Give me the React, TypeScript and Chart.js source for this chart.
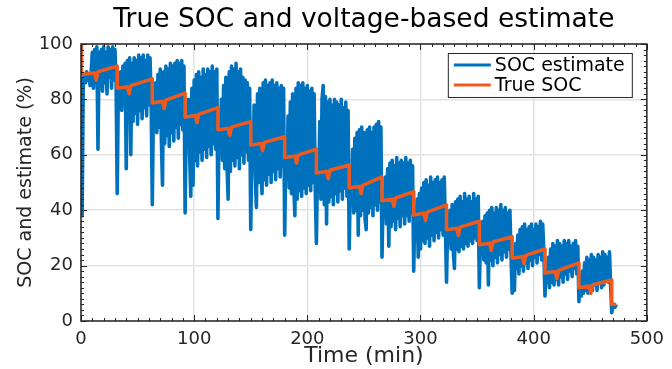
import React, { useEffect, useRef } from "react";
import { Chart, registerables } from "chart.js";

Chart.register(...registerables);

const TITLE = "True SOC and voltage-based estimate";
const X_LABEL = "Time (min)";
const Y_LABEL = "SOC and estimate (%)";
const SERIES_LABELS = ["SOC estimate", "True SOC"];
const X_RANGE = [0, 500];
const Y_RANGE = [0, 100];
const X_MAJOR = 100;
const Y_MAJOR = 20;
const X_MINOR = 10;
const Y_MINOR = 2;

// Voltage-based SOC estimate, one sample per minute (t = 0, 1, 2, ... min)
const socEstimate = [
  88, 38, 87, 89, 86, 90, 87, 89, 85, 90,
  97, 84, 98, 86, 99, 62, 97, 85, 98, 83,
  99, 86, 97, 82, 99, 88, 98, 84, 99, 87,
  98, 86, 46, 84, 80, 90, 76, 92, 78, 93,
  55, 94, 74, 95, 60, 93, 72, 95, 75, 94,
  71, 96, 76, 95, 73, 96, 77, 94, 74, 96,
  78, 95, 80, 42, 78, 72, 86, 68, 89, 70,
  91, 66, 49, 90, 64, 92, 67, 91, 63, 93,
  68, 92, 65, 93, 70, 94, 66, 93, 71, 94,
  69, 92, 39, 74, 66, 80, 60, 45, 84, 49,
  87, 58, 89, 56, 90, 61, 88, 58, 91, 62,
  89, 59, 91, 63, 90, 60, 92, 64, 90, 62,
  91, 37, 70, 62, 80, 58, 85, 55, 88, 57,
  44, 90, 54, 92, 58, 91, 56, 93, 59, 90,
  55, 91, 60, 88, 57, 87, 61, 86, 58, 84,
  33, 64, 56, 78, 52, 41, 82, 50, 84, 53,
  46, 86, 51, 87, 49, 85, 53, 86, 50, 87,
  54, 85, 51, 86, 55, 84, 52, 85, 56, 84,
  31, 60, 52, 74, 48, 79, 46, 82, 49, 38,
  84, 44, 86, 47, 85, 45, 86, 48, 84, 46,
  85, 49, 83, 47, 84, 50, 82, 48, 28, 55,
  47, 72, 44, 80, 85, 42, 81, 35, 79, 43,
  80, 45, 78, 42, 80, 46, 79, 43, 78, 47,
  80, 44, 77, 48, 79, 45, 76, 26, 50, 42,
  62, 39, 66, 40, 68, 31, 69, 38, 70, 40,
  68, 37, 33, 69, 39, 70, 41, 68, 38, 70,
  42, 71, 40, 72, 43, 70, 23, 45, 38, 52,
  35, 55, 27, 57, 34, 58, 36, 56, 33, 59,
  37, 57, 34, 58, 38, 57, 35, 59, 38, 57,
  36, 58, 39, 56, 18, 40, 33, 44, 23, 46,
  26, 48, 29, 50, 28, 51, 30, 49, 27, 52,
  31, 50, 29, 51, 32, 52, 30, 50, 33, 51,
  31, 52, 34, 14, 35, 29, 40, 26, 42, 25,
  19, 43, 26, 44, 25, 45, 27, 43, 26, 46,
  28, 44, 27, 45, 29, 43, 28, 46, 30, 44,
  29, 45, 12, 30, 24, 36, 22, 38, 21, 39,
  13, 40, 22, 41, 20, 39, 23, 41, 21, 40,
  24, 42, 22, 40, 25, 41, 23, 39, 26, 40,
  24, 10, 24, 11, 28, 19, 31, 17, 33, 20,
  34, 18, 35, 21, 33, 19, 34, 22, 35, 20,
  33, 23, 35, 21, 34, 24, 36, 22, 35, 25,
  9, 19, 14, 23, 12, 26, 14, 28, 13, 27,
  15, 29, 13, 28, 16, 27, 14, 29, 17, 28,
  15, 29, 18, 27, 16, 28, 19, 29, 17, 27,
  7, 13, 9, 18, 10, 21, 11, 23, 10, 22,
  12, 24, 11, 23, 13, 22, 11, 24, 14, 23,
  12, 25, 13, 24, 15, 23, 14, 25, 13, 3,
  5, 6, 5, 6,
];

// True SOC staircase (time in min, SOC in %)
const trueTime = [
  0, 0.5, 12, 13.5, 15, 32,
  32, 41, 42.5, 44, 63,
  63, 72, 73.5, 75, 92,
  92, 101, 102.5, 104, 121,
  121, 130, 131.5, 133, 150,
  150, 159, 160.5, 162, 180,
  180, 189, 190.5, 192, 208,
  208, 217, 218.5, 220, 237,
  237, 246, 247.5, 249, 266,
  266, 275, 276.5, 278, 294,
  294, 303, 304.5, 306, 323,
  323, 332, 333.5, 335, 352,
  352, 361, 362.5, 364, 381,
  381, 390, 391.5, 393, 410,
  410, 419, 420.5, 422, 440,
  440, 449, 450.5, 452, 469,
  469, 473,
];
const trueSOC = [
  100, 89, 89.5, 87, 90, 92,
  84, 84.6, 82, 85, 87.4,
  78.7, 79.3, 76.7, 79.7, 82.3,
  73.6, 74.2, 71.6, 74.6, 77,
  69, 69.6, 67, 70, 72,
  63.5, 64.1, 61.5, 64.5, 66.5,
  59, 59.6, 57, 60, 62,
  53.4, 54, 51.4, 54.4, 56.3,
  48, 48.6, 46, 49, 52,
  43.4, 44, 41.4, 44.4, 46.7,
  38.3, 38.9, 36.3, 39.3, 41.9,
  32.9, 33.5, 30.9, 33.9, 36,
  27.5, 28.1, 25.5, 28.5, 30.4,
  22.7, 23.3, 20.7, 23.7, 26,
  17.3, 17.9, 15.3, 18.3, 21,
  12, 12.6, 10, 13, 14.8,
  6, 6,
];

const BLUE = "#0072BD";
const ORANGE = "#EE5A1E";
const AXIS = "#262626";
const GRID = "#e2e2e2";
const FONT = "'DejaVu Sans', 'Liberation Sans', sans-serif";

const framePlugin = {
  id: "matlabFrame",
  afterDatasetsDraw(chart: any) {
    const { ctx, chartArea: a, scales } = chart;
    const x = scales.x;
    const y = scales.y;
    ctx.save();
    ctx.strokeStyle = AXIS;
    ctx.lineWidth = 1;
    ctx.beginPath();
    for (let v = X_RANGE[0]; v <= X_RANGE[1]; v += X_MINOR) {
      const px = Math.round(x.getPixelForValue(v)) + 0.5;
      const len = v % X_MAJOR === 0 ? 6 : 3;
      ctx.moveTo(px, a.bottom);
      ctx.lineTo(px, a.bottom - len);
      ctx.moveTo(px, a.top);
      ctx.lineTo(px, a.top + len);
    }
    for (let v = Y_RANGE[0]; v <= Y_RANGE[1]; v += Y_MINOR) {
      const py = Math.round(y.getPixelForValue(v)) + 0.5;
      const len = v % Y_MAJOR === 0 ? 6 : 3;
      ctx.moveTo(a.left, py);
      ctx.lineTo(a.left + len, py);
      ctx.moveTo(a.right, py);
      ctx.lineTo(a.right - len, py);
    }
    ctx.stroke();
    ctx.lineWidth = 1.5;
    ctx.strokeRect(a.left, a.top, a.right - a.left, a.bottom - a.top);
    ctx.restore();
  },
};

const legendPlugin = {
  id: "boxLegend",
  afterDraw(chart: any) {
    const { ctx, chartArea: a } = chart;
    const right = a.right - 15;
    const top = a.top + 9;
    const w = 184;
    const h = 44;
    const left = right - w;
    ctx.save();
    ctx.fillStyle = "#ffffff";
    ctx.fillRect(left, top, w, h);
    ctx.strokeStyle = AXIS;
    ctx.lineWidth = 1;
    ctx.strokeRect(left + 0.5, top + 0.5, w, h);
    const items = [
      { label: SERIES_LABELS[0], color: BLUE },
      { label: SERIES_LABELS[1], color: ORANGE },
    ];
    ctx.font = `19px ${FONT}`;
    ctx.textBaseline = "middle";
    ctx.textAlign = "left";
    items.forEach((it, i) => {
      const cy = top + 12 + i * 20;
      ctx.strokeStyle = it.color;
      ctx.lineWidth = 3;
      ctx.beginPath();
      ctx.moveTo(left + 6, cy);
      ctx.lineTo(left + 43, cy);
      ctx.stroke();
      ctx.fillStyle = "#000000";
      ctx.fillText(it.label, left + 47, cy + 1);
    });
    ctx.restore();
  },
};

export default function App() {
  const ref = useRef<HTMLCanvasElement | null>(null);

  useEffect(() => {
    if (!ref.current) return;
    const chart = new Chart(ref.current, {
      type: "scatter",
      data: {
        datasets: [
          {
            label: SERIES_LABELS[0],
            data: socEstimate.map((v, i) => ({ x: i, y: v })),
            showLine: true,
            borderColor: BLUE,
            backgroundColor: BLUE,
            borderWidth: 3.6,
            borderJoinStyle: "round",
            pointRadius: 0,
            order: 2,
          },
          {
            label: SERIES_LABELS[1],
            data: trueTime.map((t, i) => ({ x: t, y: trueSOC[i] })),
            showLine: true,
            borderColor: ORANGE,
            backgroundColor: ORANGE,
            borderWidth: 3.5,
            borderJoinStyle: "round",
            pointRadius: 0,
            order: 1,
          },
        ],
      },
      options: {
        responsive: false,
        animation: false,
        devicePixelRatio: 1,
        layout: { padding: { left: 0, right: 18, top: 0, bottom: 0 } },
        plugins: {
          legend: { display: false },
          tooltip: { enabled: false },
          title: {
            display: true,
            text: TITLE,
            fullSize: false,
            color: "#000000",
            font: { family: FONT, size: 26.5, weight: "normal" },
            padding: { top: 4, bottom: 8.2 },
          },
        },
        scales: {
          x: {
            type: "linear",
            min: X_RANGE[0],
            max: X_RANGE[1],
            ticks: {
              stepSize: X_MAJOR,
              color: AXIS,
              font: { family: FONT, size: 18 },
              padding: 8,
              maxRotation: 0,
            },
            grid: { color: GRID, lineWidth: 1.5, drawTicks: false },
            border: { display: false },
            title: {
              display: true,
              text: X_LABEL,
              color: AXIS,
              font: { family: FONT, size: 22 },
              padding: { top: 0, bottom: 0 },
            },
            afterFit: (s: any) => {
              s.height = 48;
            },
          },
          y: {
            type: "linear",
            min: Y_RANGE[0],
            max: Y_RANGE[1],
            ticks: {
              stepSize: Y_MAJOR,
              color: AXIS,
              font: { family: FONT, size: 18 },
              padding: 8,
            },
            grid: { color: GRID, lineWidth: 1.5, drawTicks: false },
            border: { display: false },
            title: {
              display: true,
              text: Y_LABEL,
              color: AXIS,
              font: { family: FONT, size: 19 },
              padding: { top: 15, bottom: 0 },
            },
            afterFit: (s: any) => {
              s.width = 81;
            },
          },
        },
      },
      plugins: [framePlugin, legendPlugin],
    } as any);
    return () => chart.destroy();
  }, []);

  return (
    <div style={{ position: "fixed", left: 0, top: 0, width: 672, height: 369, background: "#fff" }}>
      <canvas ref={ref} width={672} height={369} style={{ display: "block", width: 672, height: 369 }} />
    </div>
  );
}
